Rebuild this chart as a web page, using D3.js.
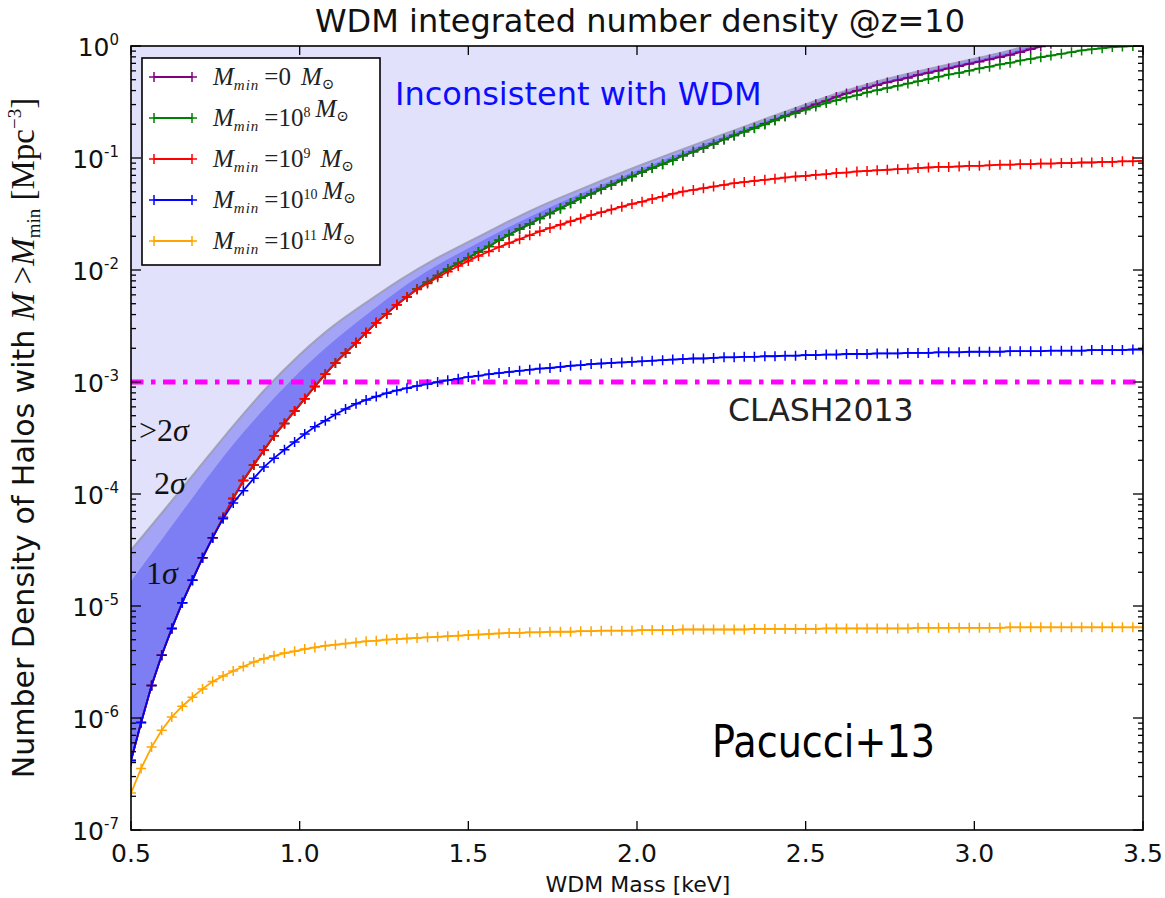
<!DOCTYPE html>
<html lang="en">
<head>
<meta charset="UTF-8">
<script src="https://d3js.org/d3.v7.min.js"></script>
<title>WDM integrated number density</title>
<style>
  body { margin: 0; background: #fff; }
  svg text { font-family: "DejaVu Sans", sans-serif; }
  .math { font-family: "Liberation Serif", "DejaVu Serif", serif; }
</style>
</head>
<body>
<script>
// WDM particle mass grid [keV]
const mass = [
  0.500,0.530,0.561,0.591,0.621,0.652,0.682,0.712,0.742,0.773,
  0.803,0.833,0.864,0.894,0.924,0.955,0.985,1.015,1.045,1.076,
  1.106,1.136,1.167,1.197,1.227,1.258,1.288,1.318,1.348,1.379,
  1.409,1.439,1.470,1.500,1.530,1.561,1.591,1.621,1.652,1.682,
  1.712,1.742,1.773,1.803,1.833,1.864,1.894,1.924,1.955,1.985,
  2.015,2.045,2.076,2.106,2.136,2.167,2.197,2.227,2.258,2.288,
  2.318,2.348,2.379,2.409,2.439,2.470,2.500,2.530,2.561,2.591,
  2.621,2.652,2.682,2.712,2.742,2.773,2.803,2.833,2.864,2.894,
  2.924,2.955,2.985,3.015,3.045,3.076,3.106,3.136,3.167,3.197,
  3.227,3.258,3.288,3.318,3.348,3.379,3.409,3.439,3.470,3.500
];

// log10 of n(>Mmin) [Mpc^-3], one array per Mmin
const logN_0 = [
  -6.38,-6.04,-5.71,-5.44,-5.20,-4.97,-4.77,-4.57,-4.39,-4.21,
  -4.04,-3.88,-3.74,-3.61,-3.48,-3.37,-3.26,-3.15,-3.04,-2.93,
  -2.83,-2.74,-2.65,-2.56,-2.47,-2.39,-2.31,-2.24,-2.17,-2.11,
  -2.05,-1.99,-1.94,-1.89,-1.84,-1.79,-1.735,-1.685,-1.635,-1.59,
  -1.54,-1.495,-1.45,-1.405,-1.36,-1.32,-1.28,-1.24,-1.20,-1.165,
  -1.125,-1.09,-1.055,-1.02,-0.98,-0.945,-0.91,-0.875,-0.835,-0.80,
  -0.765,-0.73,-0.695,-0.66,-0.625,-0.59,-0.555,-0.52,-0.49,-0.455,
  -0.425,-0.40,-0.375,-0.35,-0.325,-0.305,-0.285,-0.26,-0.24,-0.22,
  -0.20,-0.18,-0.16,-0.14,-0.12,-0.10,-0.08,-0.055,-0.03,-0.005,
  0.02,0.04,0.06,0.08,0.10,0.12,0.14,0.16,0.18,0.20
];
const logN_1e8 = [
  -6.38,-6.04,-5.71,-5.44,-5.20,-4.97,-4.77,-4.57,-4.39,-4.21,
  -4.04,-3.88,-3.74,-3.61,-3.48,-3.37,-3.26,-3.15,-3.04,-2.93,
  -2.83,-2.74,-2.65,-2.56,-2.47,-2.39,-2.31,-2.24,-2.17,-2.11,
  -2.05,-1.99,-1.94,-1.89,-1.84,-1.79,-1.735,-1.685,-1.635,-1.59,
  -1.54,-1.495,-1.45,-1.405,-1.36,-1.32,-1.28,-1.24,-1.20,-1.165,
  -1.125,-1.09,-1.055,-1.02,-0.98,-0.945,-0.91,-0.875,-0.835,-0.80,
  -0.765,-0.735,-0.70,-0.665,-0.63,-0.60,-0.57,-0.54,-0.51,-0.485,
  -0.46,-0.44,-0.415,-0.395,-0.375,-0.355,-0.335,-0.315,-0.295,-0.275,
  -0.255,-0.24,-0.22,-0.20,-0.185,-0.165,-0.15,-0.13,-0.115,-0.10,
  -0.085,-0.07,-0.055,-0.04,-0.03,-0.02,-0.01,-0.005,0.0,0.005
];
const logN_1e9 = [
  -6.38,-6.04,-5.71,-5.44,-5.20,-4.97,-4.77,-4.57,-4.39,-4.21,
  -4.04,-3.88,-3.74,-3.61,-3.48,-3.37,-3.26,-3.15,-3.04,-2.93,
  -2.83,-2.74,-2.65,-2.56,-2.47,-2.39,-2.31,-2.24,-2.175,-2.12,
  -2.065,-2.015,-1.965,-1.92,-1.875,-1.835,-1.795,-1.76,-1.725,-1.69,
  -1.655,-1.625,-1.595,-1.565,-1.54,-1.51,-1.485,-1.46,-1.435,-1.41,
  -1.39,-1.365,-1.345,-1.32,-1.30,-1.285,-1.27,-1.255,-1.24,-1.225,
  -1.215,-1.205,-1.195,-1.185,-1.175,-1.165,-1.16,-1.15,-1.145,-1.135,
  -1.13,-1.12,-1.115,-1.11,-1.105,-1.10,-1.095,-1.09,-1.085,-1.08,
  -1.08,-1.075,-1.07,-1.07,-1.065,-1.06,-1.06,-1.055,-1.055,-1.05,
  -1.05,-1.045,-1.045,-1.04,-1.04,-1.035,-1.035,-1.03,-1.03,-1.025
];
const logN_1e10 = [
  -6.38,-6.04,-5.71,-5.44,-5.20,-4.97,-4.77,-4.57,-4.39,-4.22,
  -4.08,-3.97,-3.86,-3.76,-3.68,-3.605,-3.535,-3.465,-3.40,-3.345,
  -3.29,-3.24,-3.195,-3.16,-3.13,-3.10,-3.075,-3.055,-3.035,-3.02,
  -3.00,-2.985,-2.97,-2.955,-2.945,-2.93,-2.92,-2.91,-2.90,-2.89,
  -2.88,-2.875,-2.865,-2.855,-2.85,-2.84,-2.835,-2.83,-2.825,-2.82,
  -2.815,-2.81,-2.805,-2.80,-2.795,-2.79,-2.79,-2.785,-2.78,-2.78,
  -2.775,-2.775,-2.77,-2.77,-2.765,-2.765,-2.76,-2.76,-2.755,-2.755,
  -2.75,-2.75,-2.75,-2.745,-2.745,-2.745,-2.74,-2.74,-2.74,-2.735,
  -2.735,-2.735,-2.73,-2.73,-2.73,-2.73,-2.725,-2.725,-2.725,-2.725,
  -2.72,-2.72,-2.72,-2.72,-2.715,-2.715,-2.715,-2.715,-2.71,-2.71
];
const logN_1e11 = [
  -6.67,-6.45,-6.26,-6.11,-5.99,-5.895,-5.815,-5.74,-5.675,-5.625,
  -5.58,-5.54,-5.50,-5.47,-5.445,-5.42,-5.405,-5.385,-5.37,-5.355,
  -5.345,-5.335,-5.325,-5.315,-5.31,-5.30,-5.295,-5.29,-5.285,-5.28,
  -5.275,-5.27,-5.265,-5.26,-5.255,-5.25,-5.245,-5.24,-5.24,-5.235,
  -5.235,-5.23,-5.23,-5.23,-5.225,-5.225,-5.22,-5.22,-5.22,-5.22,
  -5.215,-5.215,-5.215,-5.215,-5.21,-5.21,-5.21,-5.21,-5.21,-5.21,
  -5.21,-5.205,-5.205,-5.205,-5.205,-5.205,-5.205,-5.205,-5.20,-5.20,
  -5.20,-5.20,-5.20,-5.20,-5.20,-5.20,-5.20,-5.195,-5.195,-5.195,
  -5.195,-5.195,-5.195,-5.195,-5.195,-5.195,-5.19,-5.19,-5.19,-5.19,
  -5.19,-5.19,-5.19,-5.19,-5.19,-5.19,-5.19,-5.19,-5.19,-5.19
];

// confidence band upper edges (log10), lower edge is the Mmin=0 curve
const bandMass = [0.5,0.6,0.7,0.8,0.9,1.0,1.1,1.2,1.3,1.4,1.5,1.6,1.7,1.8,1.9,2.0,
                  2.1,2.2,2.3,2.4,2.5,2.6,2.7,2.8,2.9,3.0,3.1,3.2,3.3,3.4,3.5];
const band2sigmaTop = [-4.50,-4.14,-3.77,-3.40,-3.05,-2.75,-2.49,-2.285,-2.08,-1.90,-1.75,
                       -1.595,-1.445,-1.32,-1.195,-1.075,-0.96,-0.85,-0.74,-0.63,-0.52,
                       -0.415,-0.325,-0.25,-0.18,-0.115,-0.045,0.035,0.105,0.175,0.235];
const band1sigmaTop = [-4.78,-4.37,-3.96,-3.56,-3.22,-2.90,-2.63,-2.395,-2.16,-1.965,-1.805,
                       -1.645,-1.50,-1.36,-1.235,-1.11,-0.99,-0.875,-0.76,-0.645,-0.533,
                       -0.425,-0.34,-0.265,-0.195,-0.13,-0.06,0.02,0.09,0.16,0.22];

const clashLevel = 1e-3;
const xTicks = [0.5,1.0,1.5,2.0,2.5,3.0,3.5];
const yExponents = [-7,-6,-5,-4,-3,-2,-1,0];

const series = [
  { exp: null, color: "#800080", logs: logN_0 },
  { exp: "8",  color: "#008000", logs: logN_1e8 },
  { exp: "9",  color: "#ff0000", logs: logN_1e9 },
  { exp: "10", color: "#0000ff", logs: logN_1e10 },
  { exp: "11", color: "#ffa500", logs: logN_1e11 }
];

const width = 1165, height = 898;
const pLeft = 131, pRight = 1143, pTop = 46, pBottom = 830;

const svg = d3.select("body").append("svg")
  .attr("width", width).attr("height", height);

const x = d3.scaleLinear().domain([0.5, 3.5]).range([pLeft, pRight]);
const y = d3.scaleLog().domain([1e-7, 1]).range([pBottom, pTop]);

svg.append("clipPath").attr("id", "plot")
  .append("rect").attr("x", pLeft).attr("y", pTop)
  .attr("width", pRight - pLeft).attr("height", pBottom - pTop);

const plot = svg.append("g").attr("clip-path", "url(#plot)");

// band edges in pixel space
const edgePts = arr => bandMass.map((m, i) => [x(m), y(10 ** arr[i])]);
const basePts = mass.map((m, i) => [x(m), y(10 ** logN_0[i])]);
const smooth = d3.line().curve(d3.curveBasis);
const backToBase = basePts.slice().reverse().map(p => `L${p[0]},${p[1]}`).join("") + "Z";

// excluded region (above 2 sigma)
plot.append("path")
  .attr("d", smooth(edgePts(band2sigmaTop)) + `L${x(3.5)},${y(10)}L${x(0.5)},${y(10)}Z`)
  .attr("fill", "#e1e1fb");
plot.append("path")
  .attr("d", smooth(edgePts(band2sigmaTop)) + backToBase)
  .attr("fill", "#a4a4f7");
plot.append("path")
  .attr("d", smooth(edgePts(band1sigmaTop)) + backToBase)
  .attr("fill", "#7d7df4");
plot.append("path")
  .attr("d", smooth(edgePts(band2sigmaTop)))
  .attr("fill", "none").attr("stroke", "#9a9ab0").attr("stroke-width", 2).attr("opacity", 0.85);

// CLASH2013 level
plot.append("line")
  .attr("x1", pLeft).attr("x2", pRight)
  .attr("y1", y(clashLevel)).attr("y2", y(clashLevel))
  .attr("stroke", "#ff00ff").attr("stroke-width", 5)
  .attr("stroke-dasharray", "12.5,7.5,4.5,7.5");

// curves with + markers
const line = d3.line().x((d, i) => x(mass[i])).y(d => y(10 ** d));
const plus = "M-5,0H5M0,-5V5";
series.forEach(s => {
  plot.append("path").attr("d", line(s.logs))
    .attr("fill", "none").attr("stroke", s.color).attr("stroke-width", 1.8);
  plot.append("g").selectAll("path").data(s.logs).join("path")
    .attr("transform", (d, i) => `translate(${x(mass[i])},${y(10 ** d)})`)
    .attr("d", plus).attr("stroke", s.color).attr("stroke-width", 1.5);
});

// frame and ticks
svg.append("rect").attr("x", pLeft).attr("y", pTop)
  .attr("width", pRight - pLeft).attr("height", pBottom - pTop)
  .attr("fill", "none").attr("stroke", "#000").attr("stroke-width", 1.6);

const ticks = svg.append("g").attr("stroke", "#000").attr("stroke-width", 1.3);
xTicks.forEach(t => {
  ticks.append("line").attr("x1", x(t)).attr("x2", x(t)).attr("y1", pBottom).attr("y2", pBottom - 9);
  ticks.append("line").attr("x1", x(t)).attr("x2", x(t)).attr("y1", pTop).attr("y2", pTop + 9);
});
yExponents.forEach(e => {
  const v = 10 ** e;
  [[pLeft, 1], [pRight, -1]].forEach(([x0, dir]) => {
    ticks.append("line").attr("x1", x0).attr("x2", x0 + dir * 10).attr("y1", y(v)).attr("y2", y(v));
    if (e < 0) d3.range(2, 10).forEach(k => {
      ticks.append("line").attr("x1", x0).attr("x2", x0 + dir * 5)
        .attr("y1", y(k * v)).attr("y2", y(k * v));
    });
  });
});

svg.append("g").selectAll("text").data(xTicks).join("text")
  .attr("x", d => x(d)).attr("y", 862).attr("text-anchor", "middle")
  .attr("font-size", 25).attr("fill", "#111")
  .text(d => d.toFixed(1));

const yLab = svg.append("g").selectAll("text").data(yExponents).join("text")
  .attr("x", 119).attr("y", d => y(10 ** d) + 10).attr("text-anchor", "end")
  .attr("font-size", 25).attr("fill", "#111");
yLab.append("tspan").text("10");
yLab.append("tspan").attr("dy", -11).attr("font-size", 15).text(d => d);

// titles
svg.append("text").attr("x", 640).attr("y", 32).attr("text-anchor", "middle")
  .attr("font-size", 32).attr("fill", "#111")
  .text("WDM integrated number density @z=10");
svg.append("text").attr("x", 638).attr("y", 892).attr("text-anchor", "middle")
  .attr("font-size", 22).attr("fill", "#111").text("WDM Mass [keV]");

const yTitle = svg.append("text")
  .attr("transform", "translate(34,438) rotate(-90)")
  .attr("text-anchor", "middle").attr("font-size", 30).attr("fill", "#111");
yTitle.append("tspan").text("Number Density of Halos with ");
yTitle.append("tspan").attr("class", "math").attr("font-style", "italic").attr("font-size", 33).text("M");
yTitle.append("tspan").attr("class", "math").attr("font-size", 33).text(" >");
yTitle.append("tspan").attr("class", "math").attr("font-style", "italic").attr("font-size", 33).text("M");
yTitle.append("tspan").attr("class", "math").attr("font-size", 19).attr("dy", 6).text("min");
yTitle.append("tspan").attr("class", "math").attr("font-size", 33).attr("dy", -6).text(" [Mpc");
yTitle.append("tspan").attr("class", "math").attr("font-size", 19).attr("dy", -13).text("\u22123");
yTitle.append("tspan").attr("class", "math").attr("font-size", 33).attr("dy", 13).text("]");

// annotations
svg.append("text").attr("x", 395).attr("y", 105).attr("font-size", 32)
  .attr("fill", "#0c0cff").text("Inconsistent with WDM");
svg.append("text").attr("x", 728).attr("y", 421).attr("font-size", 31.5)
  .attr("fill", "#222").text("CLASH2013");
svg.append("text").attr("x", 712).attr("y", 757).attr("font-size", 44)
  .attr("textLength", 223).attr("lengthAdjust", "spacingAndGlyphs")
  .attr("font-family", "Lato, 'Open Sans', sans-serif").attr("fill", "#000").text("Pacucci+13");

[[">2\u03c3", 139, 441], ["2\u03c3", 154, 494], ["1\u03c3", 146, 584]].forEach(([t, tx, ty]) => {
  const el = svg.append("text").attr("class", "math").attr("x", tx).attr("y", ty)
    .attr("font-size", 32).attr("fill", "#111");
  el.append("tspan").text(t.slice(0, -1));
  el.append("tspan").attr("font-style", "italic").text("\u03c3");
});

// legend
const legend = svg.append("g");
legend.append("rect").attr("x", 142).attr("y", 58).attr("width", 238).attr("height", 207)
  .attr("fill", "#fff").attr("stroke", "#000").attr("stroke-width", 1.6);
series.forEach((s, i) => {
  const ly = 77 + i * 41;
  legend.append("line").attr("x1", 154).attr("x2", 192).attr("y1", ly).attr("y2", ly)
    .attr("stroke", s.color).attr("stroke-width", 1.8);
  [154, 192].forEach(px => legend.append("path").attr("d", plus)
    .attr("transform", `translate(${px},${ly})`).attr("stroke", s.color).attr("stroke-width", 1.5));
  const t = legend.append("text").attr("class", "math").attr("x", 213).attr("y", ly + 8)
    .attr("font-size", 25).attr("fill", "#222");
  t.append("tspan").attr("font-style", "italic").text("M");
  t.append("tspan").attr("font-style", "italic").attr("font-size", 15)
    .attr("letter-spacing", 1).attr("dy", 5).text("min");
  t.append("tspan").attr("dy", -5).text("\u2009=");
  if (s.exp === null) {
    t.append("tspan").text("0\u2009");
  } else {
    t.append("tspan").text("10");
    t.append("tspan").attr("font-size", 14).attr("dy", -9).text(s.exp);
    t.append("tspan").attr("dy", 9).text(s.exp === "9" ? "\u2009" : "");
  }
  t.append("tspan").attr("font-style", "italic").attr("dx", 5).text("M");
  t.append("tspan").attr("font-size", 15).attr("dy", 4).text("\u2299");
});
</script>
</body>
</html>
